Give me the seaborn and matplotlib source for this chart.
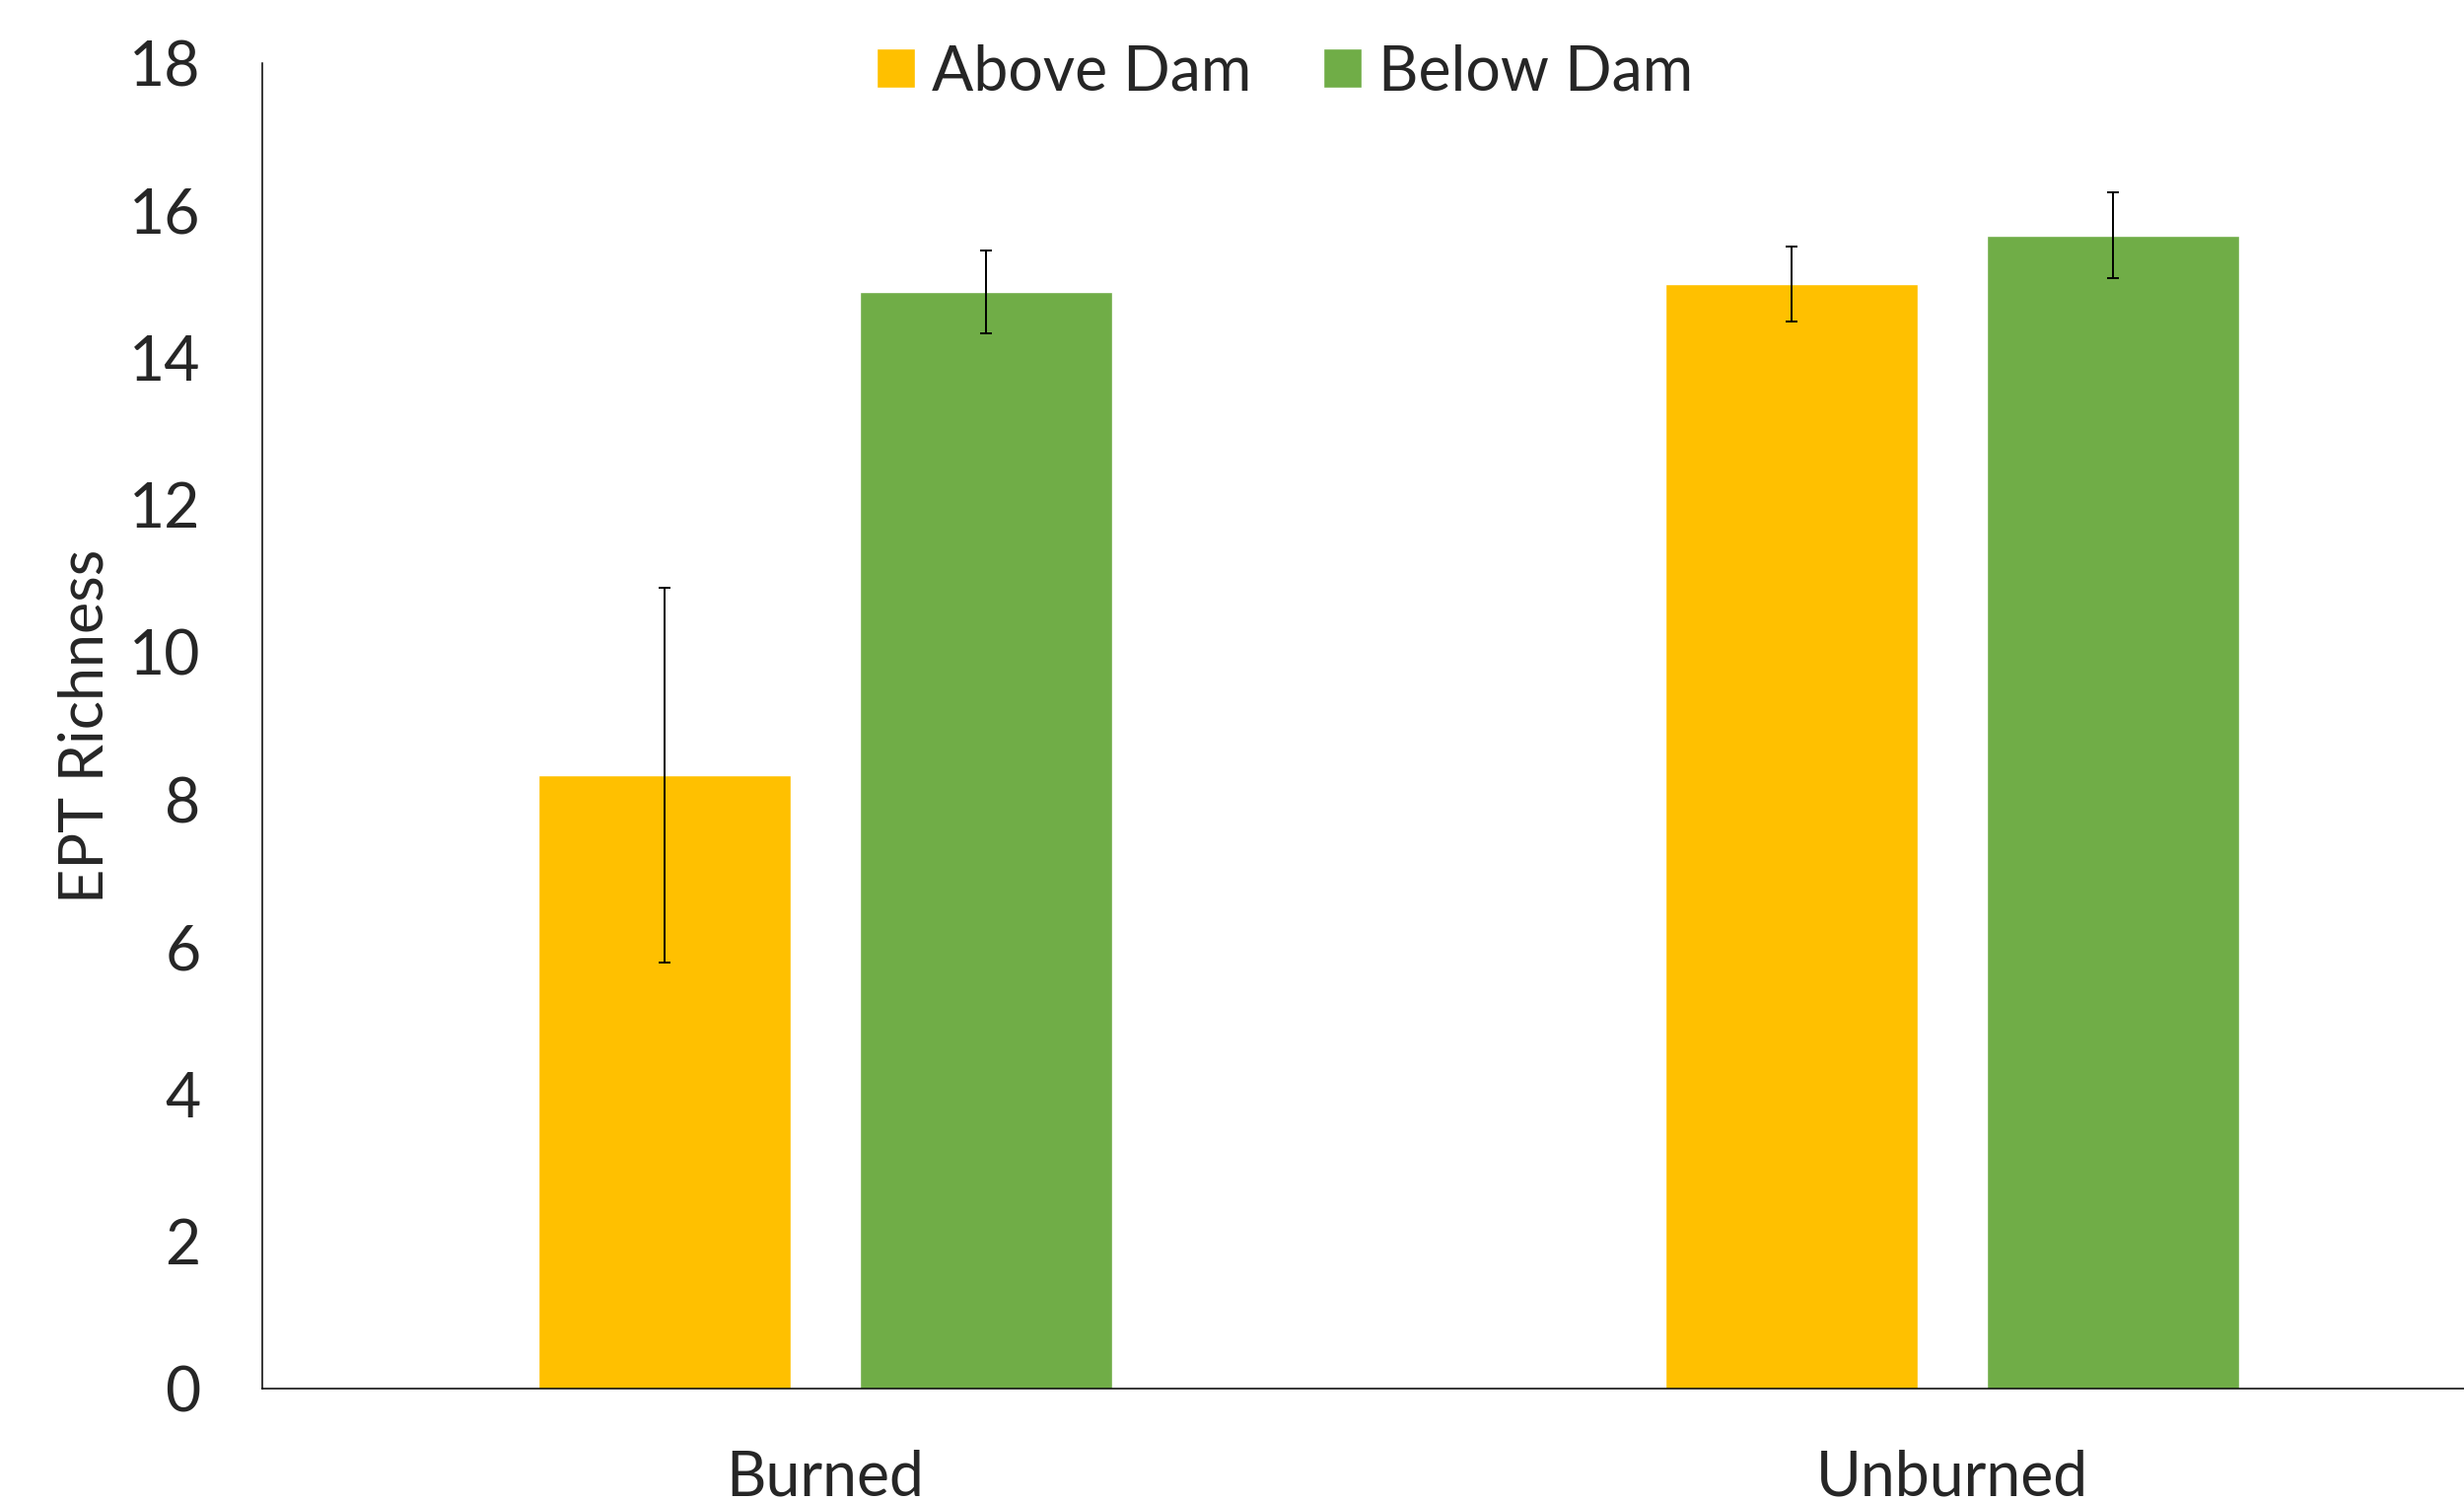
import matplotlib
matplotlib.use("Agg")
import matplotlib.pyplot as plt
import seaborn as sns
import pandas as pd
import numpy as np

categories = ["Burned", "Unburned"]
sites = ["Above Dam", "Below Dam"]
above_mean = [8.33, 15.00]
below_mean = [14.89, 15.66]
above_err = [2.55, 0.51]
below_err = [0.56, 0.58]
colors = ["#FFC000", "#70AD47"]
yticks = [0, 2, 4, 6, 8, 10, 12, 14, 16, 18]

df = pd.DataFrame({
    "Category": categories * 2,
    "Site": [sites[0]] * 2 + [sites[1]] * 2,
    "EPT": above_mean + below_mean,
})
errs = {sites[0]: above_err, sites[1]: below_err}

sns.set_style("white")
plt.rcParams["font.family"] = ["Lato", "DejaVu Sans"]

fig = plt.figure(figsize=(24.99, 15.23), dpi=100)
ax = fig.add_axes([0.1064, 0.0755, 0.9144, 0.8825])

sns.barplot(data=df, x="Category", y="EPT", hue="Site", order=categories,
            hue_order=sites, palette=colors, width=0.571, gap=0.215,
            errorbar=None, saturation=1, ax=ax)

for cont, s in zip(ax.containers, sites):
    xs = [b.get_x() + b.get_width() / 2 for b in cont]
    ys = [b.get_height() for b in cont]
    ax.errorbar(xs, ys, yerr=errs[s], fmt="none", ecolor="black",
                elinewidth=1.4, capsize=4.3, capthick=1.4, zorder=5)

ax.set_xlim(-0.5, 1.5)
ax.set_ylim(0, 18)
ax.set_yticks(yticks)
ax.set_yticklabels([str(v) for v in yticks])
ax.set_xlabel("")
ax.set_ylabel("EPT Richness", fontsize=44, labelpad=11)
ax.tick_params(axis="both", length=0, labelsize=45)
ax.tick_params(axis="y", pad=45)
ax.tick_params(axis="x", pad=44)
for side in ["top", "right"]:
    ax.spines[side].set_visible(False)
for side in ["left", "bottom"]:
    ax.spines[side].set_color("black")
    ax.spines[side].set_linewidth(1.1)

handles, labels = ax.get_legend_handles_labels()
if ax.legend_:
    ax.legend_.remove()
fig.legend(handles, labels, loc="center", bbox_to_anchor=(0.5215, 0.952),
           ncol=2, frameon=False, fontsize=45, handlelength=0.62,
           handleheight=0.62, handletextpad=0.27, columnspacing=1.17)

fig.savefig("out.png", dpi=100)
